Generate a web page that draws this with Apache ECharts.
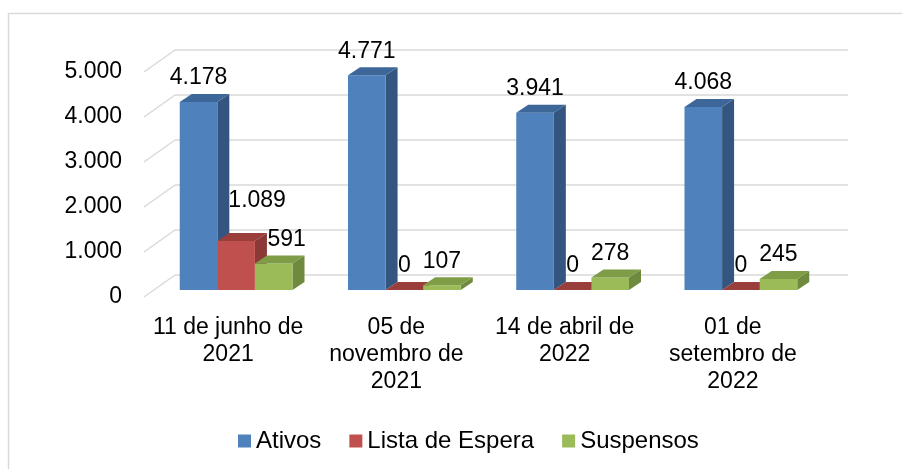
<!DOCTYPE html>
<html>
<head>
<meta charset="utf-8">
<script src="https://cdn.jsdelivr.net/npm/echarts@6/dist/echarts.min.js"></script>
<style>
  html, body { margin: 0; padding: 0; background: #fff; }
  #chart { width: 902px; height: 469px; }
</style>
</head>
<body>
<div id="chart"></div>
<script>
// dados
const categories = [
  '11 de junho de\n2021',
  '05 de\nnovembro de\n2021',
  '14 de abril de\n2022',
  '01 de\nsetembro de\n2022'
]
const ativos = [4178, 4771, 3941, 4068]
const listaEspera = [1089, 0, 0, 0]
const suspensos = [591, 107, 278, 245]
const yTicks = [0, 1000, 2000, 3000, 4000, 5000]

// cores estilo Excel: frente, lado, topo
const palette = [
  { front: '#4f81bd', side: '#34557f', top: '#3d6699' },
  { front: '#c0504d', side: '#8c3836', top: '#9a3e3b' },
  { front: '#9bbb59', side: '#6f893e', top: '#7f9c46' }
]

// deslocamentos em pixels da perspectiva
const FRONT_DX = -23
const FRONT_DY = 15
const DEPTH_DX = 12
const DEPTH_DY = -8
const WALL_DX = -31
const WALL_DY = 22

const FONT = '"Liberation Sans", Arial, sans-serif'

// ajustes de rótulo que o Excel aplicou (série, categoria)
const labelNudge = { '1-0': [21, -16], '2-0': [13, 0] }

const fmt = v => String(v).replace(/\B(?=(\d{3})+(?!\d))/g, '.')

const chart = echarts.init(document.getElementById('chart'))

const barSeries = (name, values, sIdx) => ({
  name,
  type: 'custom',
  xAxisIndex: 0,
  yAxisIndex: 0,
  itemStyle: { color: palette[sIdx].front },
  data: values.map((v, i) => [i, v]),
  renderItem: (params, api) => {
    const c = api.value(0)
    const v = api.value(1)
    const base = api.coord([c, 0])
    const top = api.coord([c, v])
    const bw = api.size([1, 0])[0]
    const w = bw * 0.2234
    const x0 = base[0] + FRONT_DX - 1.5 * w + sIdx * w
    const yb = base[1] + FRONT_DY
    const yt = top[1] + FRONT_DY
    const col = palette[sIdx]
    const nudge = labelNudge[sIdx + '-' + c] || [0, 0]
    return {
      type: 'group',
      children: [
        {
          type: 'polygon',
          shape: { points: [[x0 + w, yt], [x0 + w, yb], [x0 + w + DEPTH_DX, yb + DEPTH_DY], [x0 + w + DEPTH_DX, yt + DEPTH_DY]] },
          style: { fill: col.side }
        },
        {
          type: 'rect',
          shape: { x: x0, y: yt, width: w, height: yb - yt },
          style: { fill: col.front }
        },
        {
          type: 'polygon',
          shape: { points: [[x0, yt], [x0 + w, yt], [x0 + w + DEPTH_DX, yt + DEPTH_DY], [x0 + DEPTH_DX, yt + DEPTH_DY]] },
          style: { fill: col.top }
        },
        {
          type: 'text',
          z2: 100,
          style: {
            x: x0 + w / 2 + nudge[0],
            y: yt - 24 + nudge[1],
            text: fmt(v),
            fill: '#000',
            font: '23px ' + FONT,
            align: 'center',
            verticalAlign: 'middle'
          }
        }
      ]
    }
  }
})

chart.setOption({
  animation: false,
  backgroundColor: '#fff',
  graphic: [
    {
      type: 'polyline',
      shape: { points: [[8.5, 469], [8.5, 13.5], [902, 13.5]] },
      style: { stroke: '#d9d9d9', lineWidth: 1.5, fill: null }
    }
  ],
  grid: [
    { left: 175, right: 54, top: 50, bottom: 194 },
    { left: 175 + WALL_DX, right: 54 - WALL_DX, top: 50 + WALL_DY, bottom: 194 - WALL_DY }
  ],
  legend: {
    left: 233,
    top: 424,
    icon: 'rect',
    itemWidth: 13,
    itemHeight: 13,
    itemGap: 28,
    textStyle: { fontSize: 24, color: '#000', fontFamily: FONT },
    data: ['Ativos', 'Lista de Espera', 'Suspensos']
  },
  xAxis: [
    {
      type: 'category', gridIndex: 0, data: categories,
      axisLine: { show: false }, axisTick: { show: false }, axisLabel: { show: false }
    },
    {
      type: 'category', gridIndex: 1, data: categories,
      axisLine: { show: false }, axisTick: { show: false },
      axisLabel: {
        margin: 17, fontSize: 23, lineHeight: 27, color: '#000',
        fontFamily: FONT, interval: 0
      }
    }
  ],
  yAxis: [
    {
      type: 'value', gridIndex: 0, min: 0, max: 5000, interval: 1000,
      axisLine: { show: false }, axisTick: { show: false }, axisLabel: { show: false },
      splitLine: { lineStyle: { color: '#d9d9d9', width: 1.5 } }
    },
    {
      type: 'value', gridIndex: 1, min: 0, max: 5000, interval: 1000,
      axisLine: { show: false }, axisTick: { show: false }, splitLine: { show: false },
      axisLabel: {
        margin: 22, fontSize: 23, color: '#000',
        fontFamily: FONT,
        formatter: v => fmt(v)
      }
    }
  ],
  series: [
    {
      type: 'custom',
      silent: true,
      xAxisIndex: 0,
      yAxisIndex: 0,
      data: yTicks.map(v => [0, v]),
      renderItem: (params, api) => {
        const y = api.coord([0, api.value(1)])[1]
        const x = params.coordSys.x
        return {
          type: 'line',
          shape: { x1: x + WALL_DX, y1: y + WALL_DY, x2: x, y2: y },
          style: { stroke: '#d9d9d9', lineWidth: 1.5 }
        }
      }
    },
    barSeries('Ativos', ativos, 0),
    barSeries('Lista de Espera', listaEspera, 1),
    barSeries('Suspensos', suspensos, 2)
  ]
})
</script>
</body>
</html>
